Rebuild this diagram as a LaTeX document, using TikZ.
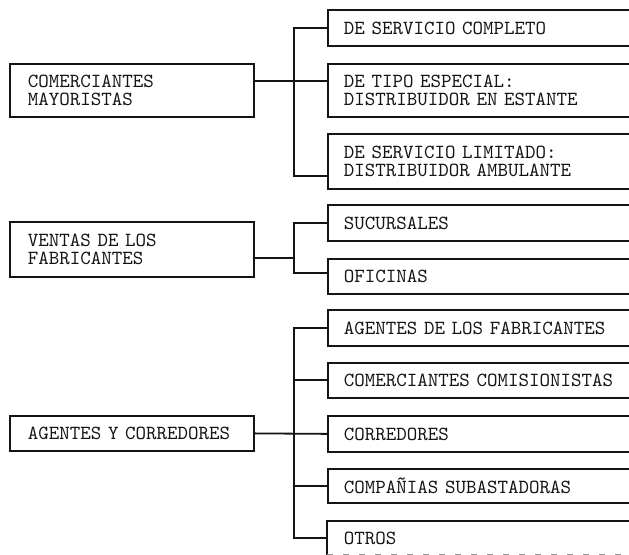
\documentclass[tikz,border=0pt]{standalone}
\usepackage{xcolor}
\usepackage{tikz}
\definecolor{inkblack}{HTML}{141414}
\definecolor{fadedgray}{HTML}{9A9A9A}

\tikzset{
  caja/.style={draw=inkblack, line width=0.9pt, anchor=north west, align=left,
    font=\fontsize{10}{8.8}\selectfont\ttfamily, text=inkblack},
  cajaizq/.style={caja, inner xsep=9pt, text width=104pt, minimum width=122pt},
  cajader/.style={caja, inner xsep=8pt, text width=144pt, minimum width=160pt},
  linea/.style={draw=inkblack, line width=0.9pt},
}

\begin{document}
\begin{tikzpicture}[x=0.5pt, y=-0.5pt]
\clip (0,0) rectangle (629,555);

% tipos de intermediarios
\node[cajaizq, minimum height=26.5pt] (mayoristas) at (9,63) {COMERCIANTES\\MAYORISTAS};
\node[cajaizq, minimum height=27.5pt] (ventas) at (9,221) {VENTAS DE LOS\\FABRICANTES};
\node[cajaizq, minimum height=17.5pt] (agentes) at (9,415) {AGENTES Y CORREDORES};

% comerciantes mayoristas
\node[cajader, minimum height=18pt] (completo) at (327,9) {DE SERVICIO COMPLETO};
\node[cajader, minimum height=26.5pt] (especial) at (327,63) {DE TIPO ESPECIAL:\\DISTRIBUIDOR EN ESTANTE};
\node[cajader, minimum height=27.5pt] (limitado) at (327,133) {DE SERVICIO LIMITADO:\\DISTRIBUIDOR AMBULANTE};

% ventas de los fabricantes
\node[cajader, minimum height=18pt] (sucursales) at (327,204) {SUCURSALES};
\node[cajader, minimum height=17.5pt] (oficinas) at (327,258) {OFICINAS};

% agentes y corredores
\node[cajader, minimum height=18pt] (agfab) at (327,309) {AGENTES DE LOS FABRICANTES};
\node[cajader, minimum height=17.5pt] (comisionistas) at (327,362) {COMERCIANTES COMISIONISTAS};
\node[cajader, minimum height=18pt] (corredores) at (327,415) {CORREDORES};
\node[cajader, minimum height=17pt] (subastadoras) at (327,468) {COMPAÑIAS SUBASTADORAS};
\node[cajader, draw=none, minimum height=16pt] (otros) at (327,521) {OTROS};
\draw[linea] (otros.south west) -- (otros.north west) -- (otros.north east);
\draw[draw=fadedgray, line width=0.6pt, dash pattern=on 3pt off 5pt] (otros.south west) -- (otros.south east);

% llaves
\coordinate (m1) at (294,81);
\coordinate (u1) at (294,176);
\draw[linea] (mayoristas.east |- m1) -- (especial.west |- m1);
\draw[linea] (completo.west) -| (u1) -- (u1 -| limitado.west);

\coordinate (m2) at (294,258);
\coordinate (u2) at (294,273);
\draw[linea] (ventas.east |- m2) -- (m2);
\draw[linea] (sucursales.west) -| (u2) -- (u2 -| oficinas.west);

\coordinate (x3) at (294,0);
\draw[linea] (agentes.east) -- (corredores.west);
\draw[linea] (agfab.west) -| (x3 |- otros.west) -- (otros.west);
\foreach \n in {comisionistas, subastadoras}
  \draw[linea] (\n.west) -- (\n.west -| x3);
\end{tikzpicture}
\end{document}
